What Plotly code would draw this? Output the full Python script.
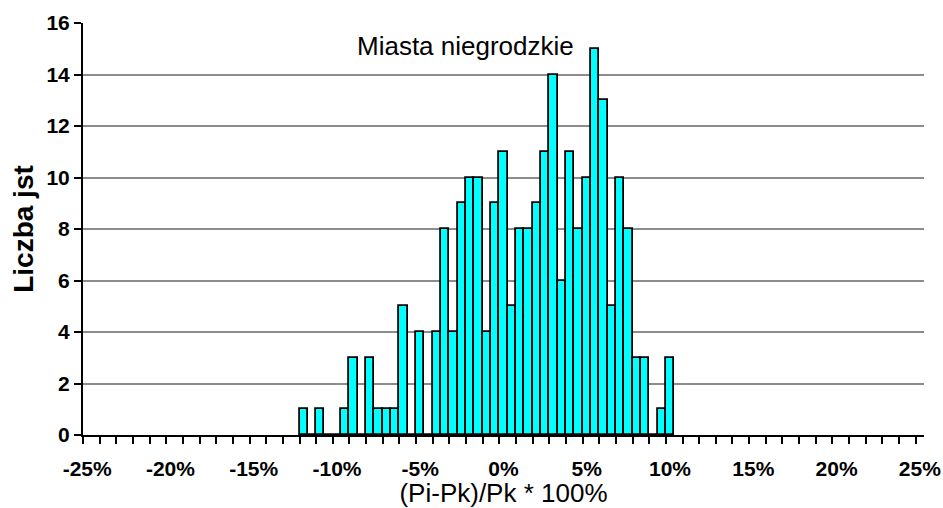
import plotly.graph_objects as go

# Histogram bins (percent, each 0.5% wide) and counts
bins_pct = [-12.0, -11.5, -11.0, -10.5, -10.0, -9.5, -9.0, -8.5, -8.0, -7.5, -7.0, -6.5,
            -6.0, -5.5, -5.0, -4.5, -4.0, -3.5, -3.0, -2.5, -2.0, -1.5, -1.0, -0.5,
            0.0, 0.5, 1.0, 1.5, 2.0, 2.5, 3.0, 3.5, 4.0, 4.5, 5.0, 5.5, 6.0, 6.5,
            7.0, 7.5, 8.0, 8.5, 9.0, 9.5, 10.0]
counts = [1, 0, 1, 0, 0, 1, 3, 0, 3, 1, 1, 1,
          5, 0, 4, 0, 4, 8, 4, 9, 10, 10, 4, 9,
          11, 5, 8, 8, 9, 11, 14, 6, 11, 8, 10, 15, 13, 5,
          10, 8, 3, 3, 0, 1, 3]

x_tick_vals = [-25, -20, -15, -10, -5, 0, 5, 10, 15, 20, 25]
x_tick_text = ["-25%", "-20%", "-15%", "-10%", "-5%", "0%", "5%", "10%", "15%", "20%", "25%"]
x_minor_vals = [-25.25 + k for k in range(51)]
y_tick_vals = [0, 2, 4, 6, 8, 10, 12, 14, 16]

title_text = "Miasta niegrodzkie"
x_title = "(Pi-Pk)/Pk * 100%"
y_title = "Liczba jst"

FONT = "Arial, Liberation Sans, Helvetica, sans-serif"

fig = go.Figure()
fig.add_trace(go.Bar(
    x=bins_pct, y=counts, width=0.5,
    marker=dict(color="#00FFFF", line=dict(color="black", width=1.8)),
    hoverinfo="x+y",
))

fig.update_layout(
    width=943, height=508,
    margin=dict(l=83, r=19, t=23, b=73),
    plot_bgcolor="white", paper_bgcolor="white",
    showlegend=False,
    bargap=0,
    font=dict(family=FONT, color="black"),
    annotations=[dict(
        text=title_text, x=0.455, y=0.944, xref="paper", yref="paper",
        xanchor="center", yanchor="middle", showarrow=False,
        font=dict(family=FONT, size=26, color="black"),
    )],
)

fig.update_xaxes(
    range=[-25.25, 25.25], automargin=False,
    tickmode="array", tickvals=x_tick_vals, ticktext=x_tick_text,
    ticks="", ticklabelstandoff=14,
    tickfont=dict(family=FONT, size=21, color="black", weight="bold"),
    showgrid=False, zeroline=False,
    showline=True, linecolor="black", linewidth=2,
    minor=dict(tickmode="array", tickvals=x_minor_vals, ticks="outside",
               ticklen=7, tickwidth=1.5, tickcolor="black", showgrid=False),
    title=dict(text=x_title, font=dict(family=FONT, size=26, color="black"), standoff=3),
)

fig.update_yaxes(
    range=[0, 16], automargin=False,
    tickmode="array", tickvals=y_tick_vals,
    ticks="outside", ticklen=7, tickwidth=1.5, tickcolor="black",
    tickfont=dict(family=FONT, size=21, color="black", weight="bold"),
    showgrid=True, gridcolor="#8c8c8c", gridwidth=1.5,
    zeroline=False,
    showline=True, linecolor="black", linewidth=2,
    title=dict(text=y_title, font=dict(family=FONT, size=28, color="black", weight="bold"), standoff=5),
)

fig.write_html(
    "out.html",
    config={"displayModeBar": False},
    post_script="document.body.style.margin='0';document.body.style.overflow='hidden';",
)
